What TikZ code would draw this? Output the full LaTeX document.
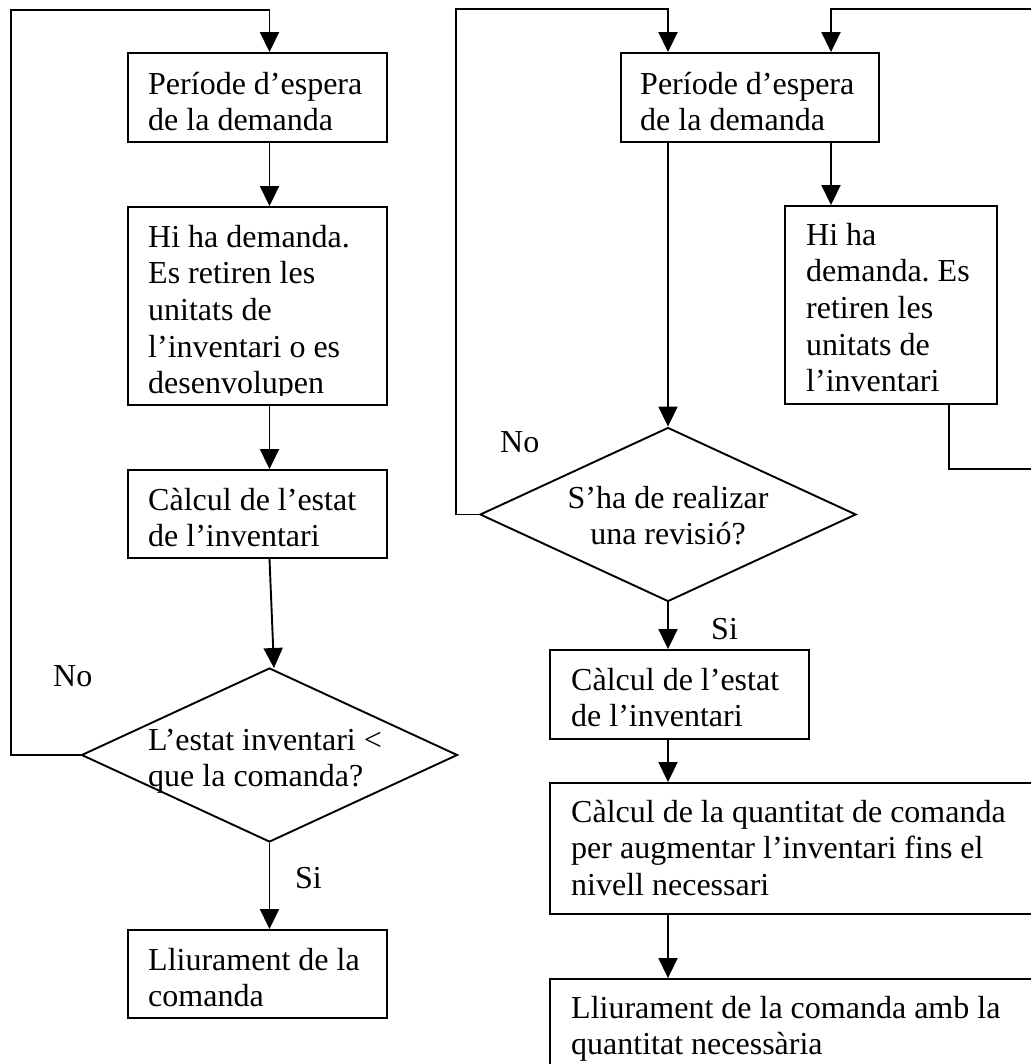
\documentclass[tikz,border=0pt]{standalone}
\usepackage{fontspec}
\setmainfont{Liberation Serif}
\usetikzlibrary{shapes.geometric,arrows.meta}
\frenchspacing
\begin{document}
\begin{tikzpicture}[x=1pt,y=-1pt,
  box/.style={draw, line width=1.9pt, rectangle, inner sep=0pt},
  dec/.style={draw, line width=1.9pt, diamond, inner sep=0pt, minimum width=376pt, minimum height=174pt},
  txt/.style={anchor=north west, inner sep=0pt, align=left, font=\fontsize{32}{36.7}\selectfont\frenchspacing},
  ctxt/.style={anchor=north, inner sep=0pt, align=center, font=\fontsize{32}{36.7}\selectfont},
  lbl/.style={anchor=base west, inner sep=0pt, font=\fontsize{32}{36.7}\selectfont},
  conn/.style={line width=1.9pt},
  arr/.style={conn, -{Triangle[length=20pt,width=19pt]}}
]
\useasboundingbox (0,0) rectangle (1030,1064);
\fill[white] (0,0) rectangle (1030,1064);

% left column boxes
\node[box, minimum width=259pt, minimum height=89pt] (b1) at (257.5,97.5) {};
\node[box, minimum width=259pt, minimum height=198pt] (b2) at (257.5,306) {};
\node[box, minimum width=259pt, minimum height=88pt] (b3) at (257.5,514) {};
\node[dec] (d1) at (269.5,755) {};
\node[box, minimum width=259pt, minimum height=88pt] (b4) at (257.5,974) {};

% right column boxes
\node[box, minimum width=258pt, minimum height=89pt] (b5) at (750,97.5) {};
\node[box, minimum width=212pt, minimum height=198pt] (b6) at (891,305) {};
\node[dec] (d2) at (668,514.5) {};
\node[box, minimum width=259pt, minimum height=89pt] (b7) at (679.5,694.5) {};
\node[box, minimum width=550pt, minimum height=131pt] (b8) at (825,848.5) {};
\node[box, minimum width=550pt, minimum height=171pt] (b9) at (825,1064.5) {};

% texts
\node[txt] (t1) at (148,68.3) {\strut Període d’espera\\de la demanda};
\begin{scope}
\clip (0,0) rectangle (1030,395);
\node[txt] (t2) at (148,221.3) {\strut Hi ha demanda.\\Es retiren les\\unitats de\\l’inventari o es\\desenvolupen};
\end{scope}
\node[txt] (t3) at (148,484.3) {\strut Càlcul de l’estat\\de l’inventari};
\node[txt] (t4) at (148,944.3) {\strut Lliurament de la\\comanda};
\node[txt] (td1) at (148,724.3) {\strut L’estat inventari <\\que la comanda?};

\node[txt] (t5) at (640,68.3) {\strut Període d’espera\\de la demanda};
\node[txt] (t6) at (806,219.3) {\strut Hi ha\\demanda. Es\\retiren les\\unitats de\\l’inventari};
\node[ctxt] (td2) at (668,482.3) {\strut S’ha de realizar\\una revisió?};
\node[txt] (t7) at (571,664.3) {\strut Càlcul de l’estat\\de l’inventari};
\node[txt] (t8) at (571,796.3) {\strut Càlcul de la quantitat de comanda\\per augmentar l’inventari fins el\\nivell necessari};
\node[txt] (t9) at (571,992.3) {\strut Lliurament de la comanda amb la\\quantitat necessària};

% labels
\node[lbl] (no1) at (53,686) {No};
\node[lbl] (si1) at (295,888) {Si};
\node[lbl] (no2) at (500,452) {No};
\node[lbl] (si2) at (711,639) {Si};

% helper coordinates
\coordinate (lt) at (11,10);
\coordinate (rt) at (456,9);
\coordinate (d1in) at (274,668);
\coordinate (xa6) at (831,0);
\coordinate (xb6) at (949,0);
\coordinate (re) at (1060,469);
\coordinate (rtop) at (1060,9);

% left connectors
\draw[arr] (d1.west) -| (lt) -| (d1.north |- b1.north);
\draw[arr] (d1.north |- b1.south) -- (d1.north |- b2.north);
\draw[arr] (d1.north |- b2.south) -- (d1.north |- b3.north);
\draw[arr] (d1.north |- b3.south) -- (d1in);
\draw[arr] (d1.south) -- (d1.south |- b4.north);

% right connectors
\draw[arr] (d2.west) -| (rt) -| (d2.north |- b5.north);
\draw[arr] (d2.north |- b5.south) -- (d2.north);
\draw[arr] (xa6 |- b5.south) -- (xa6 |- b6.north);
\draw[arr] (xb6 |- b6.south) |- (re) -- (rtop) -| (xa6 |- b5.north);
\draw[arr] (d2.south) -- (d2.south |- b7.north);
\draw[arr] (d2.south |- b7.south) -- (d2.south |- b8.north);
\draw[arr] (d2.south |- b8.south) -- (d2.south |- b9.north);
\end{tikzpicture}
\end{document}
